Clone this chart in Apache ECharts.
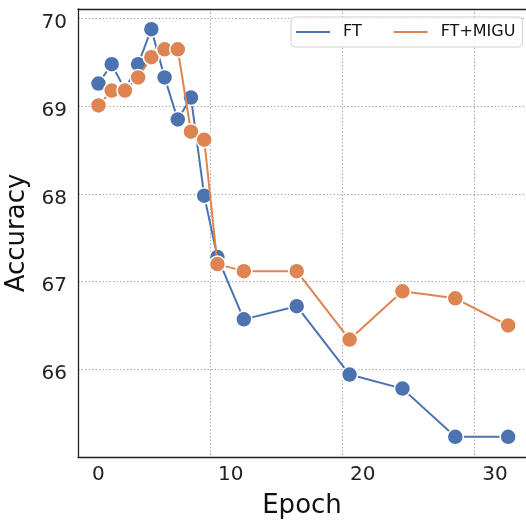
<!DOCTYPE html>
<html><head><meta charset="utf-8">
<script src="https://cdn.jsdelivr.net/npm/echarts@6/dist/echarts.min.js"></script>
<style>html,body{margin:0;padding:0;background:#fff}#c{width:526px;height:521px}</style>
</head><body><div id="c"></div>
<script>
const epochs = [0,1,2,3,4,5,6,7,8,9,11,15,19,23,27,31];
const ftValues = [69.31,69.53,69.24,69.53,69.93,69.38,68.90,69.15,68.03,67.33,66.62,66.77,65.99,65.83,65.28,65.28];
const migValues = [69.06,69.23,69.23,69.38,69.61,69.70,69.70,68.76,68.67,67.25,67.17,67.17,66.39,66.94,66.86,66.55];
const seriesNames = ['FT','FT+MIGU'];
const xTicks = [0,10,20,30];
const yTicks = [66,67,68,69,70];

const font = 'DejaVu Sans';
const chart = echarts.init(document.getElementById('c'), null, {renderer:'canvas'});
function pairs(v){ return epochs.map((e,i)=>[e,v[i]]); }
const colors = ['#4c72b0','#dd8452'];
const xMin = -1.55, xMax = 32.35;
chart.setOption({
  animation:false,
  grid:{left:78, top:9, right:0, bottom:64, show:false, containLabel:false, outerBoundsMode:'none'},
  legend:{
    data:seriesNames, left:291, top:17, icon:'rect', itemWidth:34, itemHeight:2, itemGap:32,
    padding:[7,7,7,5], borderColor:'#d0d0d0', borderWidth:1, borderRadius:4, backgroundColor:'rgba(255,255,255,0.8)',
    itemStyle:{borderWidth:0},
    textStyle:{fontFamily:font, fontSize:16, color:'#111', padding:[0,0,0,8]}
  },
  xAxis:[{type:'value', min:xMin, max:xMax, interval:10,
    name:'Epoch', nameLocation:'middle', nameGap:36, nameTextStyle:{fontFamily:font, fontSize:26, color:'#111'},
    axisLine:{show:true, onZero:false, lineStyle:{color:'#222', width:1.3}}, axisTick:{show:false},
    axisLabel:{fontFamily:font, fontSize:20, color:'#222', margin:8,
      customValues:xTicks, formatter:v=>xTicks.includes(v)?String(v):''},
    splitLine:{show:true, lineStyle:{type:[1.5,2], color:'#a8a8a8', width:1}}
  },{type:'value', position:'top', min:xMin, max:xMax,
    axisLine:{show:true, onZero:false, lineStyle:{color:'#222', width:1.3}}, axisTick:{show:false},
    axisLabel:{show:false}, splitLine:{show:false}
  }],
  yAxis:{type:'value', min:65.05, max:70.16, interval:1,
    name:'Accuracy', nameLocation:'middle', nameGap:40, nameTextStyle:{fontFamily:font, fontSize:26, color:'#111'},
    axisLine:{show:true, onZero:false, lineStyle:{color:'#222', width:1.3}}, axisTick:{show:false},
    axisLabel:{fontFamily:font, fontSize:20, color:'#222', margin:11,
      customValues:yTicks, formatter:v=>String(Math.round(v))},
    splitLine:{show:true, lineStyle:{type:[1.5,2], color:'#a8a8a8', width:1}}
  },
  series:[
    {name:seriesNames[0], type:'line', data:pairs(ftValues), color:colors[0], symbol:'circle', symbolSize:16,
     lineStyle:{width:2, color:colors[0]}, itemStyle:{color:colors[0], borderColor:'#fff', borderWidth:1.5}, z:2},
    {name:seriesNames[1], type:'line', data:pairs(migValues), color:colors[1], symbol:'circle', symbolSize:16,
     lineStyle:{width:2, color:colors[1]}, itemStyle:{color:colors[1], borderColor:'#fff', borderWidth:1.5}, z:3}
  ]
});
</script></body></html>
